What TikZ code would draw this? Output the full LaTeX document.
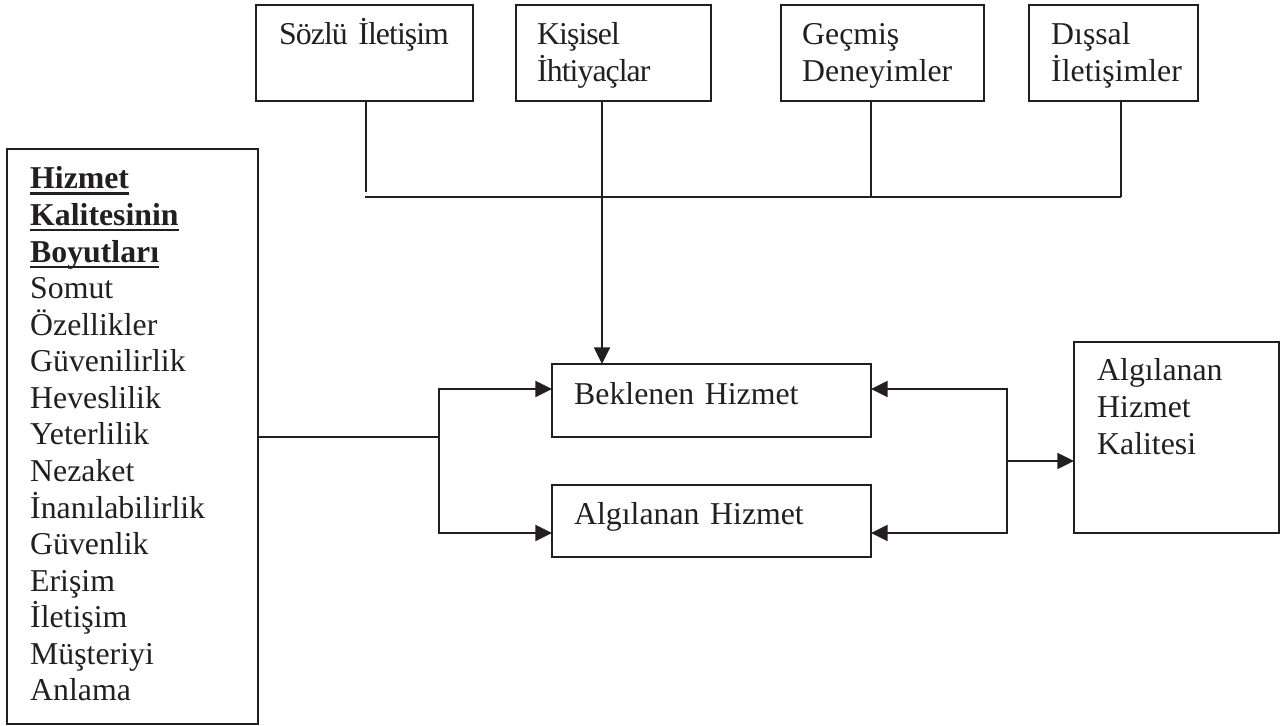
\documentclass[tikz,border=0pt]{standalone}
\usepackage{fontspec}
\setmainfont{Liberation Serif}
\usetikzlibrary{arrows.meta}
\definecolor{ink}{RGB}{35,31,32}
\newcommand\pxu{0.37736pt}
\newlength\ulw
\newcommand\uword[1]{\settowidth\ulw{#1}\rlap{\rule[-2.2pt]{\ulw}{0.9pt}}#1}
\begin{document}
\begin{tikzpicture}[x=0.37736pt,y=-0.37736pt,
  line width=0.9pt, draw=ink, text=ink,
  box/.style={draw, anchor=north west, inner sep=0pt, outer sep=0pt},
  txt/.style={anchor=base west, inner sep=0pt, align=left, text width=110pt,
    font=\fontsize{12}{13.8}\selectfont},
  tight/.style={txt, font=\fontsize{12}{13.8}\selectfont\addfontfeature{LetterSpace=-3}},
  arr/.style={-{Triangle[length=6.3pt,width=6pt]}}]
\useasboundingbox (0,0) rectangle (1288,726);

% top row of source boxes
\node[box, minimum width={217*\pxu}, minimum height={96*\pxu}] (sozlu) at (256,5) {};
\node[box, minimum width={195*\pxu}, minimum height={96*\pxu}] (kisisel) at (516,5) {};
\node[box, minimum width={203*\pxu}, minimum height={96*\pxu}] (gecmis) at (781,5) {};
\node[box, minimum width={169*\pxu}, minimum height={96*\pxu}] (dissal) at (1029,5) {};
\node[tight] (t-sozlu) at (278,45) {Sözlü İletişim};
\node[tight] (t-kisisel) at (536,45) {Kişisel\\İhtiyaçlar};
\node[txt] (t-gecmis) at (801,45) {Geçmiş\\Deneyimler};
\node[txt] (t-dissal) at (1050,45) {Dışsal\\İletişimler};

% dimensions list on the left
\node[box, minimum width={251*\pxu}, minimum height={575*\pxu}] (boyut) at (7,149) {};
\node[txt] (t-boyut) at (29,189) {\textbf{\uword{Hizmet}}\\\textbf{\uword{Kalitesinin}}\\\textbf{\uword{Boyutları}}\\Somut\\Özellikler\\Güvenilirlik\\Heveslilik\\Yeterlilik\\Nezaket\\İnanılabilirlik\\Güvenlik\\Erişim\\İletişim\\Müşteriyi\\Anlama};

% expected / perceived service
\node[box, minimum width={319*\pxu}, minimum height={73*\pxu}] (bek) at (552,364) {};
\node[box, minimum width={319*\pxu}, minimum height={72*\pxu}] (alg) at (552,485) {};
\node[txt] (t-bek) at (573,405) {Beklenen Hizmet};
\node[txt] (t-alg) at (573,525) {Algılanan Hizmet};

% perceived service quality
\node[box, minimum width={205*\pxu}, minimum height={191*\pxu}] (ahk) at (1074,342) {};
\node[txt] (t-ahk) at (1096,381) {Algılanan\\Hizmet\\Kalitesi};

% junction points
\coordinate (drop1) at (366,192);
\coordinate (x2) at (602,0);
\coordinate (x3) at (871,197);
\coordinate (busW) at (365,197);
\coordinate (busE) at (1121,197);
\coordinate (splitL) at (439,437);
\coordinate (splitR) at (1007,461);
\coordinate (yB) at (0,389);
\coordinate (yA) at (0,533);

% collecting bus from the top boxes
\draw (sozlu.south -| drop1) -- (drop1);
\draw (busW) -- (busE);
\draw (gecmis.south -| x3) -- (x3);
\draw (dissal.south -| busE) -- (busE);
\draw[arr] (kisisel.south -| x2) -- (bek.north -| x2);

% left fork
\draw (boyut.east |- splitL) -- (splitL);
\draw[arr] (splitL) |- (bek.west |- yB);
\draw[arr] (splitL) |- (alg.west |- yA);

% right fork
\draw[arr] (splitR) |- (bek.east |- yB);
\draw[arr] (splitR) |- (alg.east |- yA);
\draw[arr] (splitR) -- (ahk.west |- splitR);
\end{tikzpicture}
\end{document}
